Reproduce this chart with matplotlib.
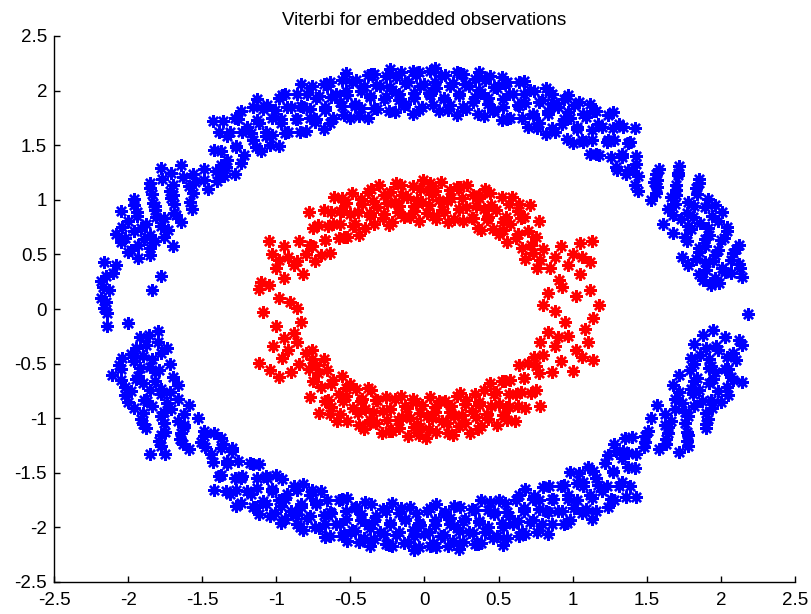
import numpy as np
import matplotlib
matplotlib.use("Agg")
import matplotlib.pyplot as plt

# ---- data (hand estimates) ----
blue_top_x = [-1.40,-1.37,-1.42,-1.39,-1.43, -1.28,-1.33,-1.27,-1.31,-1.28, -1.22,-1.16,-1.20,-1.24,
              -1.10,-1.07,-1.12,-1.09,-1.13, -0.98,-1.03,-0.97,-1.01,-0.98, -0.92,-0.86,-0.90,-0.94,
              -0.80,-0.77,-0.82,-0.79,-0.83, -0.68,-0.73,-0.67,-0.71,-0.68, -0.62,-0.56,-0.60,-0.64,
              -0.50,-0.47,-0.52,-0.49,-0.53, -0.38,-0.43,-0.37,-0.41,-0.38, -0.32,-0.26,-0.30,-0.34,
              -0.20,-0.17,-0.22,-0.19,-0.23, -0.08,-0.13,-0.07,-0.11,-0.08, -0.02,0.04,0.00,-0.04,
              0.10,0.13,0.08,0.11,0.07, 0.22,0.17,0.23,0.19,0.22, 0.28,0.34,0.30,0.26,
              0.40,0.43,0.38,0.41,0.37, 0.52,0.47,0.53,0.49,0.52, 0.58,0.64,0.60,0.56,
              0.70,0.73,0.68,0.71,0.67, 0.82,0.77,0.83,0.79,0.82, 0.88,0.94,0.90,0.86,
              1.00,1.03,0.98,1.01,0.97, 1.12,1.07,1.13,1.09,1.12, 1.18,1.24,1.20,1.16,
              1.30,1.33,1.28,1.31,1.27, 1.42,1.37,1.43,1.39,1.42]
blue_top_y = [1.17,1.32,1.46,1.62,1.72, 1.24,1.36,1.49,1.62,1.75, 1.41,1.55,1.67,1.81,
              1.45,1.58,1.70,1.83,1.92, 1.49,1.59,1.70,1.82,1.93, 1.62,1.74,1.85,1.97,
              1.63,1.75,1.85,1.97,2.06, 1.65,1.74,1.85,1.95,2.06, 1.75,1.86,1.97,2.08,
              1.75,1.86,1.96,2.08,2.16, 1.75,1.84,1.94,2.04,2.14, 1.83,1.94,2.04,2.15,
              1.80,1.91,2.01,2.12,2.20, 1.79,1.88,1.98,2.08,2.18, 1.85,1.96,2.06,2.17,
              1.81,1.92,2.02,2.13,2.21, 1.78,1.87,1.97,2.07,2.17, 1.83,1.94,2.04,2.15,
              1.77,1.88,1.98,2.10,2.17, 1.73,1.82,1.92,2.02,2.12, 1.75,1.86,1.97,2.08,
              1.67,1.79,1.89,2.01,2.09, 1.60,1.70,1.81,1.91,2.02, 1.62,1.74,1.85,1.97,
              1.52,1.65,1.75,1.87,1.96, 1.42,1.53,1.64,1.76,1.88, 1.41,1.55,1.67,1.81,
              1.27,1.42,1.55,1.69,1.80, 1.14,1.27,1.40,1.53,1.66]

blue_topfill_x = [-1.34,-1.37,-1.33,-1.36, -1.24,-1.27,-1.23,-1.26, -1.14,-1.17,-1.13,-1.16,
                  -1.04,-1.07,-1.03,-1.06, -0.94,-0.97,-0.93,-0.96, -0.84,-0.87,-0.83,-0.86,
                  -0.74,-0.77,-0.73,-0.76, -0.64,-0.67,-0.63,-0.66, -0.54,-0.57,-0.53,-0.56,
                  -0.44,-0.47,-0.43,-0.46, -0.34,-0.37,-0.33,-0.36, -0.24,-0.27,-0.23,-0.26,
                  -0.14,-0.17,-0.13,-0.16, -0.04,-0.07,-0.03,-0.06, 0.06,0.03,0.07,0.04,
                  0.16,0.13,0.17,0.14, 0.26,0.23,0.27,0.24, 0.36,0.33,0.37,0.34,
                  0.46,0.43,0.47,0.44, 0.56,0.53,0.57,0.54, 0.66,0.63,0.67,0.64,
                  0.76,0.73,0.77,0.74, 0.86,0.83,0.87,0.84, 0.96,0.93,0.97,0.94,
                  1.06,1.03,1.07,1.04, 1.16,1.13,1.17,1.14, 1.26,1.23,1.27,1.24, 1.36,1.33,1.37,1.34]
blue_topfill_y = [1.30,1.45,1.58,1.72, 1.34,1.48,1.62,1.74, 1.48,1.61,1.73,1.85,
                  1.50,1.62,1.75,1.87, 1.61,1.74,1.85,1.96, 1.62,1.74,1.86,1.97,
                  1.71,1.83,1.93,2.04, 1.70,1.82,1.94,2.04, 1.78,1.90,2.00,2.10,
                  1.77,1.88,2.00,2.10, 1.84,1.95,2.05,2.15, 1.81,1.92,2.03,2.13,
                  1.86,1.97,2.07,2.17, 1.82,1.93,2.04,2.14, 1.87,1.98,2.08,2.18,
                  1.82,1.93,2.04,2.14, 1.85,1.96,2.06,2.16, 1.79,1.90,2.01,2.11,
                  1.81,1.93,2.03,2.13, 1.74,1.85,1.97,2.07, 1.75,1.87,1.97,2.08,
                  1.66,1.78,1.90,2.00, 1.66,1.79,1.89,2.00, 1.56,1.69,1.80,1.92,
                  1.55,1.67,1.79,1.90, 1.42,1.55,1.69,1.81, 1.39,1.53,1.66,1.78, 1.24,1.39,1.52,1.67]

blue_bot_x = [1.40,1.37,1.42,1.39,1.43, 1.28,1.33,1.27,1.31,1.28, 1.22,1.16,1.20,1.24,
              1.10,1.07,1.12,1.09,1.13, 0.98,1.03,0.97,1.01,0.98, 0.92,0.86,0.90,0.94,
              0.80,0.77,0.82,0.79,0.83, 0.68,0.73,0.67,0.71,0.68, 0.62,0.56,0.60,0.64,
              0.50,0.47,0.52,0.49,0.53, 0.38,0.43,0.37,0.41,0.38, 0.32,0.26,0.30,0.34,
              0.20,0.17,0.22,0.19,0.23, 0.08,0.13,0.07,0.11,0.08, 0.02,-0.04,0.00,0.04,
              -0.10,-0.13,-0.08,-0.11,-0.07, -0.22,-0.17,-0.23,-0.19,-0.22, -0.28,-0.34,-0.30,-0.26,
              -0.40,-0.43,-0.38,-0.41,-0.37, -0.52,-0.47,-0.53,-0.49,-0.52, -0.58,-0.64,-0.60,-0.56,
              -0.70,-0.73,-0.68,-0.71,-0.67, -0.82,-0.77,-0.83,-0.79,-0.82, -0.88,-0.94,-0.90,-0.86,
              -1.00,-1.03,-0.98,-1.01,-0.97, -1.12,-1.07,-1.13,-1.09,-1.12, -1.18,-1.24,-1.20,-1.16,
              -1.30,-1.33,-1.28,-1.31,-1.27, -1.42,-1.37,-1.43,-1.39,-1.42]
blue_bot_y = [-1.17,-1.32,-1.46,-1.62,-1.72, -1.24,-1.36,-1.49,-1.62,-1.75, -1.41,-1.55,-1.67,-1.81,
              -1.45,-1.58,-1.70,-1.83,-1.92, -1.49,-1.59,-1.70,-1.82,-1.93, -1.62,-1.74,-1.85,-1.97,
              -1.63,-1.75,-1.85,-1.97,-2.06, -1.65,-1.74,-1.85,-1.95,-2.06, -1.75,-1.86,-1.97,-2.08,
              -1.75,-1.86,-1.96,-2.08,-2.16, -1.75,-1.84,-1.94,-2.04,-2.14, -1.83,-1.94,-2.04,-2.15,
              -1.80,-1.91,-2.01,-2.12,-2.20, -1.79,-1.88,-1.98,-2.08,-2.18, -1.85,-1.96,-2.06,-2.17,
              -1.81,-1.92,-2.02,-2.13,-2.21, -1.78,-1.87,-1.97,-2.07,-2.17, -1.83,-1.94,-2.04,-2.15,
              -1.77,-1.88,-1.98,-2.10,-2.17, -1.73,-1.82,-1.92,-2.02,-2.12, -1.75,-1.86,-1.97,-2.08,
              -1.67,-1.79,-1.89,-2.01,-2.09, -1.60,-1.70,-1.81,-1.91,-2.02, -1.62,-1.74,-1.85,-1.97,
              -1.52,-1.65,-1.75,-1.87,-1.96, -1.42,-1.53,-1.64,-1.76,-1.88, -1.41,-1.55,-1.67,-1.81,
              -1.27,-1.42,-1.55,-1.69,-1.80, -1.14,-1.27,-1.40,-1.53,-1.66]

blue_botfill_x = [1.34,1.37,1.33,1.36, 1.24,1.27,1.23,1.26, 1.14,1.17,1.13,1.16,
                  1.04,1.07,1.03,1.06, 0.94,0.97,0.93,0.96, 0.84,0.87,0.83,0.86,
                  0.74,0.77,0.73,0.76, 0.64,0.67,0.63,0.66, 0.54,0.57,0.53,0.56,
                  0.44,0.47,0.43,0.46, 0.34,0.37,0.33,0.36, 0.24,0.27,0.23,0.26,
                  0.14,0.17,0.13,0.16, 0.04,0.07,0.03,0.06, -0.06,-0.03,-0.07,-0.04,
                  -0.16,-0.13,-0.17,-0.14, -0.26,-0.23,-0.27,-0.24, -0.36,-0.33,-0.37,-0.34,
                  -0.46,-0.43,-0.47,-0.44, -0.56,-0.53,-0.57,-0.54, -0.66,-0.63,-0.67,-0.64,
                  -0.76,-0.73,-0.77,-0.74, -0.86,-0.83,-0.87,-0.84, -0.96,-0.93,-0.97,-0.94,
                  -1.06,-1.03,-1.07,-1.04, -1.16,-1.13,-1.17,-1.14, -1.26,-1.23,-1.27,-1.24, -1.36,-1.33,-1.37,-1.34]
blue_botfill_y = [-1.30,-1.45,-1.58,-1.72, -1.34,-1.48,-1.62,-1.74, -1.48,-1.61,-1.73,-1.85,
                  -1.50,-1.62,-1.75,-1.87, -1.61,-1.74,-1.85,-1.96, -1.62,-1.74,-1.86,-1.97,
                  -1.71,-1.83,-1.93,-2.04, -1.70,-1.82,-1.94,-2.04, -1.78,-1.90,-2.00,-2.10,
                  -1.77,-1.88,-2.00,-2.10, -1.84,-1.95,-2.05,-2.15, -1.81,-1.92,-2.03,-2.13,
                  -1.86,-1.97,-2.07,-2.17, -1.82,-1.93,-2.04,-2.14, -1.87,-1.98,-2.08,-2.18,
                  -1.82,-1.93,-2.04,-2.14, -1.85,-1.96,-2.06,-2.16, -1.79,-1.90,-2.01,-2.11,
                  -1.81,-1.93,-2.03,-2.13, -1.74,-1.85,-1.97,-2.07, -1.75,-1.87,-1.97,-2.08,
                  -1.66,-1.78,-1.90,-2.00, -1.66,-1.79,-1.89,-2.00, -1.56,-1.69,-1.80,-1.92,
                  -1.55,-1.67,-1.79,-1.90, -1.42,-1.55,-1.69,-1.81, -1.39,-1.53,-1.66,-1.78, -1.24,-1.39,-1.52,-1.67]

blue_right_x = [1.29,1.43,1.58,1.72, 1.44,1.57,1.71,1.85, 1.44,1.57,1.70,1.83, 1.53,1.66,1.78,1.91,
                1.64,1.77,1.89,2.01, 1.61,1.73,1.86,1.98, 1.68,1.80,1.92,2.04, 1.77,1.89,2.00,2.12,
                1.74,1.85,1.96,2.08, 1.78,1.89,2.01,2.12, 1.85,1.96,2.07,2.14, 2.13, 1.93,1.99,
                2.18, 1.95,2.12, 1.82,1.90,2.08, 1.86,1.98,2.10,1.80, 1.93,2.03,1.82,
                1.72,1.84,1.96,2.07,2.14, 1.68,1.80,1.92,2.04, 1.69,1.81,1.93,2.05,
                1.57,1.69,1.82,1.94, 1.53,1.66,1.78,1.91, 1.51,1.64,1.77,1.90,
                1.35,1.49,1.63,1.77, 1.29,1.43,1.58,1.72]
blue_right_y = [1.30,1.33,1.28,1.31, 1.22,1.18,1.23,1.19, 1.08,1.12,1.09,1.11, 1.00,1.03,0.98,1.01,
                0.92,0.88,0.93,0.89, 0.78,0.82,0.79,0.81, 0.70,0.73,0.68,0.71, 0.62,0.58,0.63,0.59,
                0.48,0.52,0.49,0.51, 0.40,0.43,0.38,0.41, 0.32,0.28,0.33,0.29, 0.38, 0.22,0.24,
                -0.05, -0.19,-0.28, -0.32,-0.36,-0.40, -0.42,-0.38,-0.47,-0.45, -0.52,-0.55,-0.50,
                -0.60,-0.63,-0.58,-0.62,-0.67, -0.70,-0.73,-0.68,-0.71, -0.82,-0.78,-0.83,-0.79,
                -0.88,-0.92,-0.89,-0.91, -1.00,-1.03,-0.98,-1.01, -1.12,-1.08,-1.13,-1.09,
                -1.18,-1.22,-1.19,-1.21, -1.30,-1.33,-1.28,-1.31]

blue_rightfill_x = [1.41,1.56,1.71, 1.55,1.70,1.85, 1.56,1.70,1.84, 1.69,1.82,1.96, 1.68,1.81,1.94,
                    1.78,1.91,2.04, 1.76,1.89,2.02, 1.85,1.98,2.10, 1.83,1.95,2.07, 1.90,2.03, 1.88,
                    1.88,2.03, 1.97,2.14, 1.92,2.04, 1.79,1.92,2.05, 1.82,1.95,2.08, 1.72,1.85,1.98,
                    1.74,1.87,2.00, 1.62,1.76,1.90, 1.62,1.76,1.90, 1.49,1.64,1.78, 1.48,1.63,1.78]
blue_rightfill_y = [1.26,1.24,1.25, 1.16,1.14,1.15, 1.06,1.04,1.05, 0.96,0.94,0.95, 0.86,0.84,0.85,
                    0.76,0.74,0.75, 0.66,0.64,0.65, 0.56,0.54,0.55, 0.46,0.44,0.45, 0.36,0.34, 0.27,
                    -0.24,-0.26, -0.34,-0.33, -0.46,-0.44, -0.56,-0.54,-0.55, -0.66,-0.64,-0.65, -0.76,-0.74,-0.75,
                    -0.86,-0.84,-0.85, -0.96,-0.94,-0.95, -1.06,-1.04,-1.05, -1.16,-1.14,-1.15, -1.26,-1.24,-1.25]

blue_left_x = [-1.35,-1.49,-1.64,-1.78, -1.35,-1.49,-1.63,-1.77, -1.46,-1.59,-1.72,-1.85,
               -1.58,-1.71,-1.83,-1.96, -1.57,-1.69,-1.82,-1.94,-2.05, -1.64,-1.76,-1.88,-2.00,
               -1.73,-1.85,-1.96,-2.08, -1.70,-1.82,-1.93,-2.05, -1.85,-2.00,-1.93, -2.16,-2.08,
               -2.15,-2.18,-1.78,-2.10, -2.17,-2.13,-1.84, -2.18,-2.15, -2.16,-2.14, -2.14,-2.00,
               -1.80,-1.86, -1.80,-1.88,-1.95, -1.78,-1.90,-1.98,-2.04, -1.72,-1.85,-1.96,-2.06,
               -1.70,-1.82,-1.93,-2.11, -1.66,-1.78,-1.90,-2.02, -1.66,-1.78,-1.89,-2.02,
               -1.59,-1.71,-1.84,-1.96, -1.53,-1.66,-1.78,-1.91, -1.49,-1.62,-1.75,-1.88,
               -1.37,-1.51,-1.65,-1.79, -1.30,-1.44,-1.59,-1.75,-1.85]
blue_left_y = [1.31,1.28,1.32,1.29, 1.22,1.18,1.21,1.19, 1.10,1.13,1.08,1.11,
               0.98,1.02,0.97,1.01, 0.92,0.88,0.91,0.89,0.90, 0.80,0.83,0.78,0.81,
               0.72,0.68,0.71,0.69, 0.58,0.62,0.59,0.61, 0.49,0.52,0.47, 0.43,0.40,
               0.30,0.26,0.30,0.33, 0.20,0.17,0.17, 0.10,0.06, 0.01,-0.04, -0.16,-0.13,
               -0.20,-0.24, -0.30,-0.33,-0.36, -0.40,-0.43,-0.41,-0.45, -0.50,-0.53,-0.48,-0.51,
               -0.62,-0.58,-0.61,-0.60, -0.70,-0.73,-0.68,-0.71, -0.82,-0.78,-0.83,-0.79,
               -0.88,-0.92,-0.89,-0.91, -1.00,-1.03,-0.98,-1.01, -1.12,-1.08,-1.13,-1.09,
               -1.18,-1.22,-1.19,-1.21, -1.30,-1.33,-1.28,-1.33,-1.33]

blue_leftfill_x = [-1.41,-1.56,-1.71, -1.55,-1.70,-1.85, -1.56,-1.70,-1.84, -1.69,-1.82,-1.96,
                   -1.68,-1.81,-1.94, -1.78,-1.91,-2.04, -1.76,-1.89,-2.02, -1.85,-1.98, -1.92, -1.74,
                   -1.84,-1.96, -1.79,-1.92,-2.05, -1.82,-1.95,-2.05, -1.72,-1.85,-1.98, -1.74,-1.87,-2.00,
                   -1.62,-1.76,-1.90, -1.62,-1.76,-1.90, -1.49,-1.64,-1.78, -1.48,-1.63,-1.78]
blue_leftfill_y = [1.26,1.24,1.25, 1.16,1.14,1.15, 1.06,1.04,1.05, 0.96,0.94,0.95,
                   0.86,0.84,0.85, 0.76,0.74,0.75, 0.66,0.64,0.65, 0.56,0.54, -0.26, -0.36,
                   -0.46,-0.44, -0.56,-0.54,-0.55, -0.66,-0.64,-0.65, -0.76,-0.74,-0.75, -0.86,-0.84,-0.85,
                   -0.96,-0.94,-0.95, -1.06,-1.04,-1.05, -1.16,-1.14,-1.15, -1.26,-1.24,-1.25]

red_top_x = [-0.70,-0.67,-0.72,-0.68, -0.58,-0.62,-0.57,-0.61, -0.52,-0.48,-0.50,-0.53,-0.49,
             -0.40,-0.37,-0.42,-0.38, -0.28,-0.32,-0.27,-0.31, -0.22,-0.18,-0.20,-0.23,-0.19,
             -0.10,-0.07,-0.12,-0.08, 0.02,-0.02,0.03,-0.01, 0.08,0.12,0.10,0.07,0.11,
             0.20,0.23,0.18,0.22, 0.32,0.28,0.33,0.29, 0.38,0.42,0.40,0.37,0.41,
             0.50,0.53,0.48,0.52, 0.62,0.58,0.63,0.59, 0.68,0.72,0.70,0.67,0.71]
red_top_y = [0.49,0.63,0.77,0.91, 0.65,0.78,0.90,1.03, 0.66,0.76,0.87,0.97,1.06,
             0.74,0.85,0.96,1.07, 0.83,0.93,1.04,1.14, 0.80,0.89,0.98,1.07,1.15,
             0.84,0.94,1.03,1.13, 0.88,0.98,1.08,1.18, 0.82,0.91,1.00,1.08,1.16,
             0.82,0.92,1.02,1.12, 0.83,0.93,1.04,1.14, 0.72,0.82,0.92,1.02,1.10,
             0.69,0.80,0.91,1.03, 0.65,0.78,0.90,1.03, 0.46,0.59,0.71,0.84,0.95]

red_topfill_x = [-0.74,-0.77,-0.75,-0.78, -0.64,-0.67,-0.65,-0.63, -0.54,-0.57,-0.55,-0.56,
                 -0.44,-0.47,-0.45,-0.43, -0.34,-0.37,-0.35,-0.36, -0.24,-0.27,-0.25,-0.23,
                 -0.14,-0.17,-0.15,-0.16, -0.04,-0.07,-0.05,-0.03, 0.06,0.03,0.05,0.04,
                 0.16,0.13,0.15,0.17, 0.26,0.23,0.25,0.24, 0.36,0.33,0.35,0.37,
                 0.46,0.43,0.45,0.44, 0.56,0.53,0.55,0.57, 0.66,0.63,0.65,0.64, 0.76,0.73,0.75,0.77]
red_topfill_y = [0.44,0.59,0.74,0.89, 0.51,0.63,0.76,0.89, 0.66,0.78,0.90,1.02,
                 0.68,0.78,0.89,1.01, 0.78,0.88,0.99,1.10, 0.77,0.87,0.97,1.07,
                 0.84,0.94,1.04,1.14, 0.81,0.90,1.00,1.10, 0.85,0.95,1.05,1.15,
                 0.80,0.89,0.99,1.09, 0.81,0.92,1.02,1.12, 0.74,0.83,0.94,1.04,
                 0.73,0.84,0.95,1.06, 0.61,0.72,0.84,0.96, 0.56,0.69,0.83,0.96, 0.38,0.51,0.66,0.81]

red_bot_x = [0.70,0.67,0.72,0.68, 0.58,0.62,0.57,0.61, 0.52,0.48,0.50,0.53,0.49,
             0.40,0.37,0.42,0.38, 0.28,0.32,0.27,0.31, 0.22,0.18,0.20,0.23,0.19,
             0.10,0.07,0.12,0.08, -0.02,0.02,-0.03,0.01, -0.08,-0.12,-0.10,-0.07,-0.11,
             -0.20,-0.23,-0.18,-0.22, -0.32,-0.28,-0.33,-0.29, -0.38,-0.42,-0.40,-0.37,-0.41,
             -0.50,-0.53,-0.48,-0.52, -0.62,-0.58,-0.63,-0.59, -0.68,-0.72,-0.70,-0.67,-0.71]
red_bot_y = [-0.49,-0.63,-0.77,-0.91, -0.65,-0.78,-0.90,-1.03, -0.66,-0.76,-0.87,-0.97,-1.06,
             -0.74,-0.85,-0.96,-1.07, -0.83,-0.93,-1.04,-1.14, -0.80,-0.89,-0.98,-1.07,-1.15,
             -0.84,-0.94,-1.03,-1.13, -0.88,-0.98,-1.08,-1.18, -0.82,-0.91,-1.00,-1.08,-1.16,
             -0.82,-0.92,-1.02,-1.12, -0.83,-0.93,-1.04,-1.14, -0.72,-0.82,-0.92,-1.02,-1.10,
             -0.69,-0.80,-0.91,-1.03, -0.65,-0.78,-0.90,-1.03, -0.46,-0.59,-0.71,-0.84,-0.95]

red_botfill_x = [0.74,0.77,0.75,0.78, 0.64,0.67,0.65,0.63, 0.54,0.57,0.55,0.56,
                 0.44,0.47,0.45,0.43, 0.34,0.37,0.35,0.36, 0.24,0.27,0.25,0.23,
                 0.14,0.17,0.15,0.16, 0.04,0.07,0.05,0.03, -0.06,-0.03,-0.05,-0.04,
                 -0.16,-0.13,-0.15,-0.17, -0.26,-0.23,-0.25,-0.24, -0.36,-0.33,-0.35,-0.37,
                 -0.46,-0.43,-0.45,-0.44, -0.56,-0.53,-0.55,-0.57, -0.66,-0.63,-0.65,-0.64, -0.76,-0.73,-0.75,-0.77]
red_botfill_y = [-0.44,-0.59,-0.74,-0.89, -0.51,-0.63,-0.76,-0.89, -0.66,-0.78,-0.90,-1.02,
                 -0.68,-0.78,-0.89,-1.01, -0.78,-0.88,-0.99,-1.10, -0.77,-0.87,-0.97,-1.07,
                 -0.84,-0.94,-1.04,-1.14, -0.81,-0.90,-1.00,-1.10, -0.85,-0.95,-1.05,-1.15,
                 -0.80,-0.89,-0.99,-1.09, -0.81,-0.92,-1.02,-1.12, -0.74,-0.83,-0.94,-1.04,
                 -0.73,-0.84,-0.95,-1.06, -0.61,-0.72,-0.84,-0.96, -0.56,-0.69,-0.83,-0.96, -0.38,-0.51,-0.66,-0.81]

red_right_x = [0.80,0.92,1.05,1.13, 0.88,1.00,1.12, 0.85,0.97, 0.91,1.05, 1.12,0.83, 0.80,1.18,
               1.14,0.95, 0.83,0.97,1.10, 0.88,1.02, 1.14,0.80,0.92, 0.75,0.86,1.00]
red_right_y = [0.55,0.58,0.60,0.62, 0.48,0.50,0.43, 0.38,0.40, 0.27,0.32, 0.17,0.15, 0.04,0.04,
               -0.08,-0.12, -0.21,-0.25,-0.30, -0.34,-0.38, -0.47,-0.42,-0.48, -0.52,-0.58,-0.57]

red_left_x = [-0.85,-0.95,-1.05,-0.80,-0.92,-1.03,-0.88,-1.00,-0.82,-1.10,-1.05,-0.95,-1.12,-0.91,
              -1.09,-0.86,-1.00,-0.83,-0.95,-0.86,-0.92,-0.80,-0.96,-1.12,-0.85,-0.78,-0.90,-0.98]
red_left_y = [0.62,0.58,0.62,0.50,0.48,0.50,0.40,0.38,0.32,0.25,0.22,0.28,0.18,0.06,
              -0.03,0.01,-0.16,-0.12,-0.27,-0.30,-0.38,-0.40,-0.45,-0.49,-0.50,-0.55,-0.58,-0.62]

red_side_x = [0.78,1.06,0.93,1.02,0.88,1.08,0.90,0.78,1.06, -0.76,-0.98,-0.86,-0.98,-0.88,-1.02,-0.76,-1.04]
red_side_y = [0.45,0.48,0.20,0.12,-0.02,-0.18,-0.26,-0.30,-0.44, 0.58,0.45,0.44,0.10,-0.22,-0.34,-0.46,-0.56]

tick_values = [-2.5, -2, -1.5, -1, -0.5, 0, 0.5, 1, 1.5, 2, 2.5]
tick_labels = ["-2.5", "-2", "-1.5", "-1", "-0.5", "0", "0.5", "1", "1.5", "2", "2.5"]
title_text = "Viterbi for embedded observations"

# ---- figure ----
plt.rcParams['font.family'] = ['Liberation Sans', 'DejaVu Sans']
fig = plt.figure(figsize=(8.12, 6.14), dpi=100)
ax = fig.add_axes([54/812, 32/614, 741/812, 546/614])

blue_x = (blue_top_x + blue_topfill_x + blue_right_x + blue_rightfill_x +
          blue_bot_x + blue_botfill_x + blue_left_x + blue_leftfill_x)
blue_y = (blue_top_y + blue_topfill_y + blue_right_y + blue_rightfill_y +
          blue_bot_y + blue_botfill_y + blue_left_y + blue_leftfill_y)
red_x = red_top_x + red_topfill_x + red_right_x + red_bot_x + red_botfill_x + red_left_x + red_side_x
red_y = red_top_y + red_topfill_y + red_right_y + red_bot_y + red_botfill_y + red_left_y + red_side_y

star = (8, 2, 0)
ax.plot(blue_x, blue_y, linestyle='none', marker=star, markersize=9,
        markeredgewidth=1.7, markeredgecolor='#0000ff', markerfacecolor='none')
ax.plot(red_x, red_y, linestyle='none', marker=star, markersize=9,
        markeredgewidth=1.7, markeredgecolor='#ff0000', markerfacecolor='none')

ax.set_xlim(-2.5, 2.5)
ax.set_ylim(-2.5, 2.5)
ax.set_xticks(tick_values)
ax.set_xticklabels(tick_labels)
ax.set_yticks(tick_values)
ax.set_yticklabels(tick_labels)
ax.tick_params(direction='in', length=4, width=1.0, labelsize=13.5, colors='black')
ax.tick_params(axis='x', pad=7)
ax.tick_params(axis='y', pad=5)
for side in ('top', 'right'):
    ax.spines[side].set_visible(False)
for side in ('left', 'bottom'):
    ax.spines[side].set_linewidth(1.0)
ax.set_title(title_text, fontsize=13.5, pad=8)

fig.savefig("out.png", dpi=100)
